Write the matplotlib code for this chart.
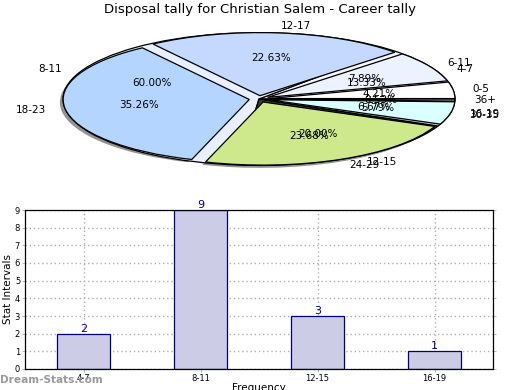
import matplotlib
matplotlib.use("Agg")
import matplotlib.pyplot as plt

# frequency table (bar chart and the lower pie)
freq_labels = ["4-7", "8-11", "12-15", "16-19"]
freq_counts = [2, 9, 3, 1]
freq_colors = ["#f4f7ff", "#e8efff", "#3a3a3a", "#d0d0d0"]

# career tally pie
career_labels = ["0-5", "6-11", "12-17", "18-23", "24-29", "30-35", "36+"]
career_pct = [4.21, 7.89, 22.63, 35.26, 23.68, 5.79, 0.53]
career_colors = ["#ffffff", "#ecf2ff", "#c5d9ff", "#b4d5ff", "#cde98c", "#d9ffff", "#bbbbbb"]

fig = plt.figure(figsize=(5.2, 3.9), dpi=100)
fig.text(0.5, 0.993, "Disposal tally for Christian Salem - Career tally",
         ha="center", va="top", fontsize=9.5)

# ---- pie part (squashed: 1 unit = 196px across, 66px up) ----
pax = fig.add_axes([14 / 520, 208 / 390, 490 / 520, 166 / 390])
wp = dict(edgecolor="black", linewidth=0.9)
tp = dict(fontsize=7.5)
pax.pie(freq_counts, labels=freq_labels, colors=freq_colors, startangle=0,
        autopct="%.2f%%", pctdistance=0.6, labeldistance=1.1,
        wedgeprops=wp, textprops=tp)
pax.pie(career_pct, labels=career_labels, colors=career_colors, startangle=0,
        radius=0.95, explode=[0.05] * len(career_pct),
        shadow=dict(ox=-0.012, oy=-0.03, facecolor="#808080", edgecolor="none", alpha=0.85),
        autopct="%.2f%%", pctdistance=0.6, labeldistance=1.105,
        wedgeprops=wp, textprops=tp)
pax.set_aspect("auto")
pax.set_xlim(-1.25, 1.25)
pax.set_ylim(-1.25, 1.25)
pax.axis("off")

# ---- bar part ----
bax = fig.add_axes([25 / 520, 21 / 390, 468 / 520, 159 / 390])
xs = list(range(len(freq_counts)))
bax.bar(xs, freq_counts, width=0.45, color="#ccccE6", edgecolor="#000080",
        linewidth=0.9, zorder=2)
for x, v in zip(xs, freq_counts):
    bax.text(x, v, str(v), ha="center", va="bottom", color="#000080", fontsize=8)
bax.set_xlim(-0.5, 3.5)
bax.set_ylim(0, 9)
bax.set_yticks(range(10))
bax.set_xticks(xs)
bax.set_xticklabels(freq_labels)
bax.tick_params(labelsize=6, length=2, pad=1.5, right=True, width=0.5,
                colors="#999999", labelcolor="black")
bax.grid(True, linestyle=(0, (1, 2)), color="#b0b0b0", linewidth=1.0, zorder=0)
bax.set_axisbelow(True)
bax.set_ylabel("Stat Intervals", fontsize=7.5, labelpad=1)
bax.set_xlabel("Frequency", fontsize=7.5, labelpad=0)
for s in bax.spines.values():
    s.set_linewidth(0.9)

fig.text(0.0, 5 / 390, "Dream-Stats.com", color="#999999", fontsize=7.6,
         fontweight="bold", ha="left", va="bottom")

fig.savefig("out.png", dpi=100)
